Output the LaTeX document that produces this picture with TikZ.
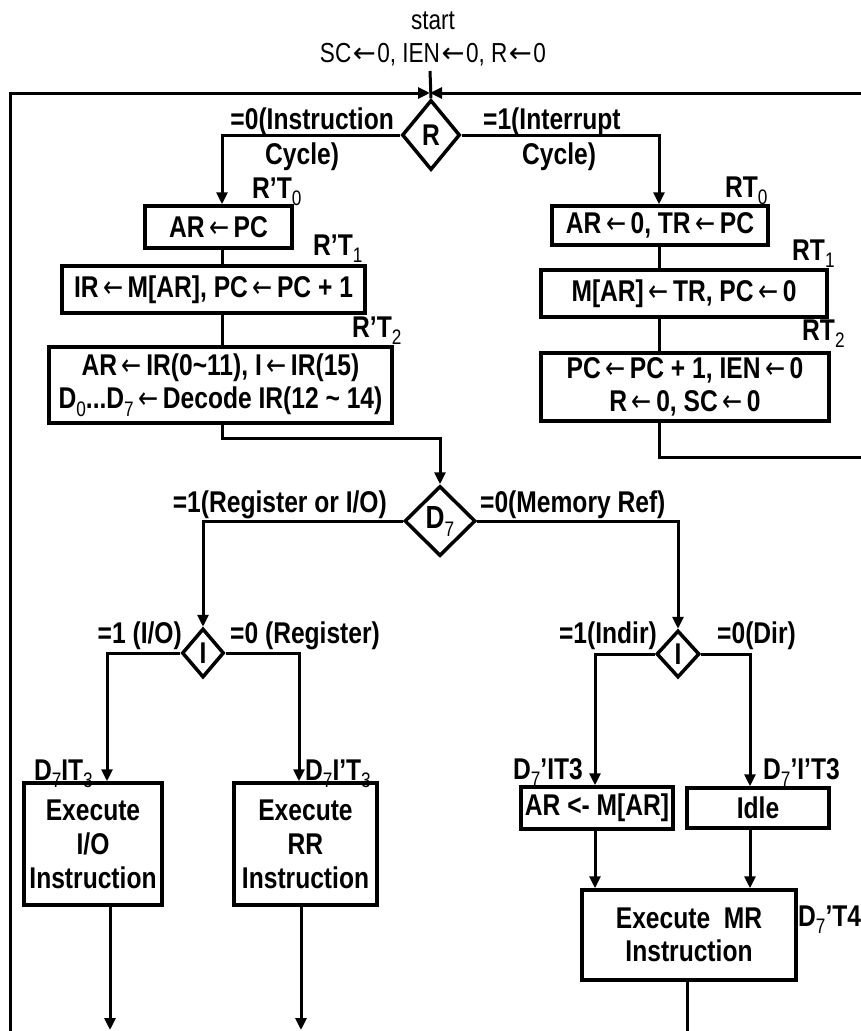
\documentclass[tikz,border=0pt]{standalone}
\usepackage{fontspec}
\usepackage{graphicx}
\setmainfont{Liberation Sans}[FakeStretch=0.82]
\newfontfamily\arrowfont{DejaVu Sans}
\usetikzlibrary{arrows.meta,shapes.geometric}
\newcommand\la{\hspace{4.5pt}{\arrowfont\mdseries\scalebox{0.8}[1]{←}}\hspace{4.5pt}}
\newcommand\lb{\hspace{1.5pt}{\arrowfont\mdseries ←}\hspace{1.5pt}}
\newcommand\lowsub[1]{\raisebox{-0.25em}{\fontsize{21}{21}\selectfont\mdseries #1}}
\begin{document}
\begin{tikzpicture}[x=1pt,y=-1pt,
  font=\fontsize{30}{33}\selectfont\bfseries,
  box/.style={draw,line width=3.5pt,inner sep=0pt,align=center},
  dia/.style={draw,diamond,line width=3.5pt,inner sep=0pt},
  lbl/.style={inner sep=0pt,anchor=base},
  lble/.style={inner sep=0pt,anchor=base east},
  lblw/.style={inner sep=0pt,anchor=base west},
  flow/.style={line width=3pt},
  arr/.style={line width=3pt,-{Triangle[length=12pt,width=11pt]}}]
\useasboundingbox (0,0) rectangle (861,1031);
% helper coordinates
\coordinate (cL) at (222,0);
\coordinate (cR) at (659,0);
\coordinate (cJ) at (430,93);
\coordinate (cBL) at (10,1031);
\coordinate (cTR) at (861,93);
\coordinate (cS) at (430,71);
\coordinate (cM) at (0,438);
\coordinate (cE) at (861,457);
\coordinate (xa) at (107,0);
\coordinate (xb) at (110,0);
\coordinate (xc) at (299,0);
\coordinate (xd) at (301,0);
\coordinate (xe) at (595,0);
\coordinate (xf) at (750,0);
\coordinate (xg) at (687,0);
\coordinate (cB) at (0,1030);
\coordinate (cB2) at (0,1031);
% start text
\node[lbl,font=\fontsize{27.5}{30}\selectfont\mdseries] (st) at (433,29) {start};
\node[lbl,font=\fontsize{27.5}{30}\selectfont\mdseries] (sc) at (433,62) {SC\lb 0, IEN\lb 0, R\lb 0};
% diamonds
\node[dia,minimum width=58,minimum height=70] (dR) at (431,135) {R};
\node[dia,minimum width=71,minimum height=70,font=\fontsize{32}{33}\selectfont\bfseries] (dD) at (440,521) {D\lowsub{7}};
\node[dia,minimum width=42,minimum height=49] (dI1) at (203,653) {I};
\node[dia,minimum width=43,minimum height=47] (dI2) at (678,654) {I};
% boxes
\node[box,minimum width=147,minimum height=42] (b1) at (218.5,227) {AR\la PC};
\node[box,minimum width=303,minimum height=47] (b2) at (213.5,289.5) {IR\la M[AR], PC\la PC + 1};
\node[box,minimum width=343,minimum height=76] (b3) at (220.5,385) {AR\la IR(0\textasciitilde 11), I\la IR(15)\\D\lowsub{0}...D\lowsub{7}\la Decode IR(12 \textasciitilde{} 14)};
\node[box,minimum width=216,minimum height=39] (r1) at (660,225.5) {AR\la 0, TR\la PC};
\node[box,minimum width=286,minimum height=47] (r2) at (684,293.5) {M[AR]\la TR, PC\la 0};
\node[box,minimum width=288,minimum height=68] (r3) at (685,387) {PC\la PC + 1, IEN\la 0\\R\la 0, SC\la 0};
\node[box,minimum width=138,minimum height=122,font=\fontsize{30}{34}\selectfont\bfseries] (e1) at (93,844) {Execute\\I/O\\Instruction};
\node[box,minimum width=143,minimum height=122,font=\fontsize{30}{34}\selectfont\bfseries] (e2) at (305.5,844) {Execute\\RR\\Instruction};
\node[box,minimum width=152,minimum height=42] (m1) at (597,808) {AR <- M[AR]};
\node[box,minimum width=142,minimum height=40] (m2) at (758,808) {Idle};
\node[box,minimum width=214,minimum height=90] (mr) at (689,935) {Execute\ \ MR\\Instruction};
% labels
\node[lble] (l1) at (394,129) {=0(Instruction};
\node[lblw] (l2) at (265,164) {Cycle)};
\node[lblw] (l3) at (252,198) {R’T\lowsub{0}};
\node[lblw] (l4) at (483,129) {=1(Interrupt};
\node[lblw] (l5) at (522,164) {Cycle)};
\node[lblw] (l6) at (725,197) {RT\lowsub{0}};
\node[lblw] (l7) at (313,255) {R’T\lowsub{1}};
\node[lblw] (l8) at (352,337) {R’T\lowsub{2}};
\node[lblw] (l9) at (792,260) {RT\lowsub{1}};
\node[lblw] (l10) at (802,340) {RT\lowsub{2}};
\node[lble] (l11) at (387,512) {=1(Register or I/O)};
\node[lblw] (l12) at (480,512) {=0(Memory Ref)};
\node[lble] (l13) at (182,643) {=1 (I/O)};
\node[lblw] (l14) at (230,643) {=0 (Register)};
\node[lble] (l15) at (657,643) {=1(Indir)};
\node[lblw] (l16) at (717,643) {=0(Dir)};
\node[lble] (l17) at (93,780) {D\lowsub{7}IT\lowsub{3}};
\node[lblw] (l18) at (305,780) {D\lowsub{7}I’T\lowsub{3}};
\node[lble] (l19) at (583,779) {D\lowsub{7}’IT3};
\node[lblw] (l20) at (763,779) {D\lowsub{7}’I’T3};
\node[lblw] (l21) at (798,926) {D\lowsub{7}’T4};
% outer loop and start
\draw[arr] (cBL) |- (cJ);
\draw[arr] (cTR) -- (cJ);
\draw[flow] (cS) -- (dR.north);
% instruction cycle
\draw[arr] (dR.west) -| (cL |- b1.north);
\draw[flow] (cL |- b1.south) -- (cL |- b2.north);
\draw[flow] (cL |- b2.south) -- (cL |- b3.north);
\draw[arr] (cL |- b3.south) -- (cL |- cM) -| (dD.north);
% interrupt cycle
\draw[arr] (dR.east) -| (cR |- r1.north);
\draw[flow] (cR |- r1.south) -- (cR |- r2.north);
\draw[flow] (cR |- r2.south) -- (cR |- r3.north);
\draw[flow] (cR |- r3.south) |- (cE);
% decode branches
\draw[arr] (dD.west) -| (dI1.north);
\draw[arr] (dD.east) -| (dI2.north);
\draw[arr] (dI1.west) -| (xa |- e1.north);
\draw[arr] (dI1.east) -| (xc |- e2.north);
\draw[arr] (dI2.west) -| (xe |- m1.north);
\draw[arr] (dI2.east) -| (xf |- m2.north);
\draw[arr] (xe |- m1.south) -- (xe |- mr.north);
\draw[arr] (xf |- m2.south) -- (xf |- mr.north);
\draw[arr] (xb |- e1.south) -- (xb |- cB);
\draw[arr] (xd |- e2.south) -- (xd |- cB);
\draw[flow] (xg |- mr.south) -- (xg |- cB2);
\end{tikzpicture}
\end{document}
